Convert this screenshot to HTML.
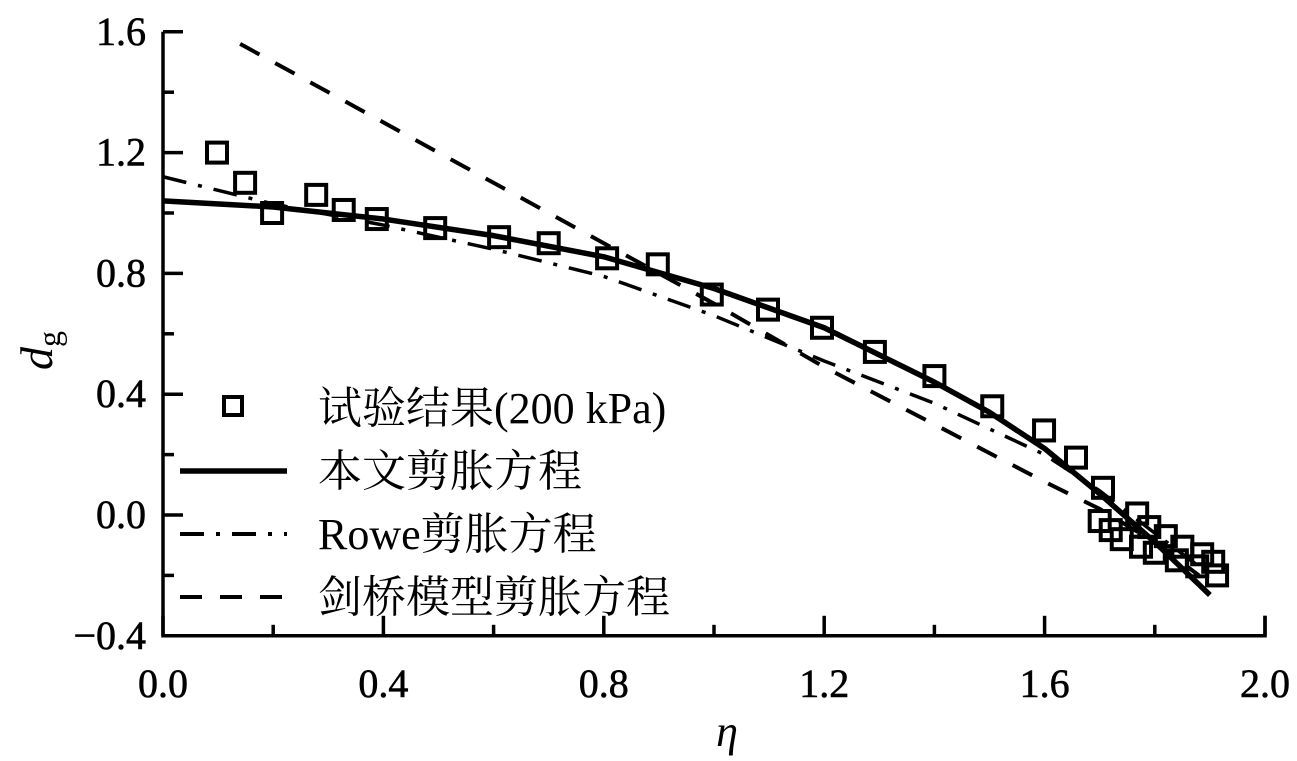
<!DOCTYPE html>
<html><head><meta charset="utf-8"><style>
body{margin:0;background:#fff}
svg{display:block}
text{font-family:"Liberation Serif","Noto Serif CJK SC",serif;fill:#000}
</style></head><body>
<svg id="chart" width="1297" height="761"></svg>
<script>
const xTicks=[0.0,0.4,0.8,1.2,1.6,2.0];
const yTicks=[1.6,1.2,0.8,0.4,0.0,-0.4];
const tickLabelsX=["0.0","0.4","0.8","1.2","1.6","2.0"];
const tickLabelsY=["1.6","1.2","0.8","0.4","0.0","\u22120.4"];
const expX=[0.098,0.149,0.198,0.278,0.328,0.388,0.494,0.61,0.70,0.806,0.898,0.996,1.098,1.196,1.292,1.40,1.505,1.599,1.657,1.706,1.70,1.72,1.74,1.768,1.775,1.79,1.80,1.82,1.84,1.85,1.877,1.886,1.906,1.913];
const expY=[1.20,1.10,1.00,1.06,1.01,0.98,0.95,0.92,0.90,0.85,0.83,0.73,0.68,0.62,0.54,0.46,0.36,0.28,0.19,0.09,-0.02,-0.05,-0.08,0.005,-0.105,-0.04,-0.125,-0.07,-0.15,-0.105,-0.17,-0.13,-0.155,-0.2];
const fitX=[0,0.2,0.4,0.6,0.8,1.0,1.2,1.4,1.5,1.6,1.7,1.8,1.9];
const fitY=[1.04,1.02,0.98,0.925,0.855,0.75,0.62,0.44,0.34,0.22,0.07,-0.09,-0.265];
const roweX=[0,0.2,0.4,0.6,0.8,1.0,1.2,1.4,1.6,1.7,1.8,1.88];
const roweY=[1.12,1.03,0.96,0.88,0.79,0.66,0.51,0.37,0.2,0.08,-0.06,-0.17];
const camX=[0.14,0.5,0.8,0.9,1.0,1.2,1.4,1.6,1.7,1.8,1.88];
const camY=[1.56,1.20,0.90,0.80,0.70,0.49,0.30,0.11,0.02,-0.09,-0.2];

const NS="http://www.w3.org/2000/svg";
const svg=document.getElementById('chart');
const X=v=>163+v*551;
const Y=v=>515-v*302;
function mk(tag,attrs,parent){const e=document.createElementNS(NS,tag);for(const k in attrs)e.setAttribute(k,attrs[k]);(parent||svg).appendChild(e);return e;}
let ax=mk('path',{d:`M${X(0)},${Y(1.6)} V${Y(-0.4)} H${X(2.0)} V${Y(-0.4)-20}`,fill:'none',stroke:'#000','stroke-width':3.5});


for(let i=0;i<xTicks.length;i++){
  const v=xTicks[i];
  let t=mk('line',{x1:X(v),x2:X(v),y1:Y(-0.4),y2:Y(-0.4)-20,stroke:'#000','stroke-width':3.5});
  
  
  if(i<xTicks.length-1){let m=mk('line',{x1:X(v+0.2),x2:X(v+0.2),y1:Y(-0.4),y2:Y(-0.4)-11,stroke:'#000','stroke-width':3.5});
  
  }
  let l=mk('text',{x:X(v),y:697,'font-size':40,'text-anchor':'middle',stroke:'#000','stroke-width':0.6});l.textContent=tickLabelsX[i];
  
  
}
for(let i=0;i<yTicks.length;i++){
  const v=yTicks[i];
  let t=mk('line',{x1:X(0),x2:X(0)+20,y1:Y(v),y2:Y(v),stroke:'#000','stroke-width':3.5});
  
  
  if(i<yTicks.length-1){let m=mk('line',{x1:X(0),x2:X(0)+11,y1:Y(v-0.2),y2:Y(v-0.2),stroke:'#000','stroke-width':3.5});
  
  }
  let l=mk('text',{x:146,y:Y(v)+13,'font-size':40,'text-anchor':'end',stroke:'#000','stroke-width':0.6});l.textContent=tickLabelsY[i];
  
  
}
function line(xs,ys,dash,w,name){
  const d=xs.map((x,i)=>(i?'L':'M')+X(x)+','+Y(ys[i])).join(' ');
  const p=mk('path',{d,fill:'none',stroke:'#000','stroke-width':w,'stroke-dasharray':dash,'stroke-linejoin':'round'});
  
  
}
line(camX,camY,'22 18',4,'cambridge-line');
line(roweX,roweY,'24 12 4 12',3.5,'rowe-line');
line(fitX,fitY,'none',5.5,'fit-line');
for(let i=0;i<expX.length;i++){
  const r=mk('rect',{x:X(expX[i])-10,y:Y(expY[i])-10,width:20,height:20,fill:'none',stroke:'#000','stroke-width':4});
  
  
}
const lg=mk('g',{});


const rs=[['sq','试验结果(200 kPa)',408],['none','本文剪胀方程',471],['24 12 4 12','Rowe剪胀方程',534],['22 18','剑桥模型剪胀方程',597]];
rs.forEach(r=>{
  const g=mk('g',{},lg);
  
  
  if(r[0]==='sq') mk('rect',{x:224,y:r[2]-11,width:18,height:18,fill:'none',stroke:'#000','stroke-width':4},g);
  else mk('line',{x1:180,x2:287,y1:r[2],y2:r[2],stroke:'#000','stroke-width':r[0]==='none'?5.5:4,'stroke-dasharray':r[0]},g);
  const t=mk('text',{x:318,y:r[2]+15,'font-size':44,'textLength':r[1].length>10?350:null},g);
  t.removeAttribute('textLength');
  t.textContent=r[1];
});
let yl=mk('text',{x:0,y:0,'font-size':46,'font-style':'italic',transform:'translate(52,370) rotate(-90)'});
yl.innerHTML='d<tspan font-size="32" font-style="normal" dy="8">g</tspan>';


let xl=mk('text',{x:727,y:746,'font-size':44,'font-style':'italic','text-anchor':'middle'});xl.textContent='η';


</script>
</body></html>
